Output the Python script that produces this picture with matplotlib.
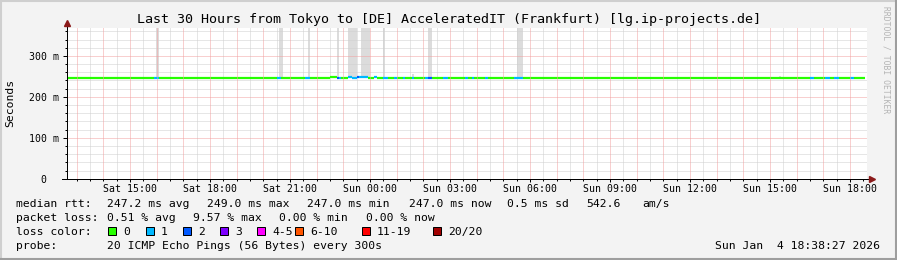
import matplotlib
matplotlib.use("Agg")
import matplotlib.pyplot as plt
import matplotlib.dates as mdates
from matplotlib.ticker import MultipleLocator, FixedLocator
from matplotlib.patches import Rectangle
from matplotlib.lines import Line2D
import pandas as pd

W, H = 897, 260
MONO = "DejaVu Sans Mono"

# time window of the graph
t_start = pd.Timestamp("2026-01-03 12:38:27")
t_end = pd.Timestamp("2026-01-04 18:38:27")
days = {"Sat": "2026-01-03", "Sun": "2026-01-04"}

# median rtt, run-length: segment edges, rtt (ms), lost pings out of 20
seg_edges = ["Sat 12:40", "Sat 15:55", "Sat 16:05", "Sat 20:30", "Sat 20:40", "Sat 21:35",
             "Sat 21:45", "Sat 22:30", "Sat 22:45", "Sat 22:50", "Sat 22:55", "Sat 23:10",
             "Sat 23:20", "Sat 23:30", "Sat 23:35", "Sat 23:55", "Sun 00:10", "Sun 00:15",
             "Sun 00:30", "Sun 00:40", "Sun 00:55", "Sun 01:00", "Sun 01:15", "Sun 01:20",
             "Sun 01:35", "Sun 01:40", "Sun 02:05", "Sun 02:10", "Sun 02:20", "Sun 02:45",
             "Sun 02:55", "Sun 03:35", "Sun 03:40", "Sun 03:50", "Sun 03:55", "Sun 04:20",
             "Sun 04:25", "Sun 05:25", "Sun 05:45", "Sun 16:30", "Sun 16:40", "Sun 17:05",
             "Sun 17:15", "Sun 17:25", "Sun 17:35", "Sun 18:00", "Sun 18:10", "Sun 18:35"]
seg_rtt = [247, 247, 247, 247, 247, 247, 247, 249.5, 246, 247, 247, 249.5,
           247, 249.5, 249.5, 247, 248, 247, 247, 247, 247, 247, 247, 247,
           247, 247, 247, 247, 247, 247, 247, 247, 247, 247, 247, 247,
           247, 247, 247, 247, 247, 247, 247, 247, 247, 247, 247]
seg_loss = [0, 1, 0, 1, 0, 1, 0, 0, 2, 1, 0, 1,
            1, 2, 1, 0, 1, 0, 1, 0, 1, 0, 1, 0,
            1, 0, 1, 2, 0, 1, 0, 1, 0, 1, 0, 1,
            0, 1, 0, 1, 0, 1, 0, 1, 0, 1, 0]

# smoke (spread of the 20 pings), ms
smoke_from = ["Sat 15:59", "Sat 20:35", "Sat 21:40", "Sat 22:45", "Sat 23:10", "Sat 23:40",
              "Sun 00:30", "Sun 01:35", "Sun 02:10", "Sun 05:30", "Sun 15:20"]
smoke_to = ["Sat 16:05", "Sat 20:45", "Sat 21:45", "Sat 22:50", "Sat 23:30", "Sun 00:00",
            "Sun 00:35", "Sun 01:40", "Sun 02:20", "Sun 05:45", "Sun 15:25"]
smoke_lo = [249, 249, 249, 249, 249, 249, 249, 249, 249, 249, 249]
smoke_hi = [900, 900, 900, 900, 900, 900, 900, 256, 900, 900, 252]

# loss colour legend
loss_labels = ["0", "1", "2", "3", "4-5", "6-10", "11-19", "20/20"]
loss_colors = ["#26ff00", "#00b8ff", "#0059ff", "#7e00ff", "#ff00ff", "#ff5500", "#ff0000", "#a10000"]
loss_box_x = [108, 146, 183, 220, 257, 295, 362, 433]

# statistics lines: (text, x px)
rtt_stats = [("median rtt:", 16), ("247.2 ms avg", 107), ("249.0 ms max", 207),
             ("247.0 ms min", 307), ("247.0 ms now", 409), ("0.5 ms sd", 507),
             ("542.6", 586), ("am/s", 642)]
loss_stats = [("packet loss:", 16), ("0.51 % avg", 107), ("9.57 % max", 193),
              ("0.00 % min", 279), ("0.00 % now", 366)]
probe_text = "20 ICMP Echo Pings (56 Bytes) every 300s"
stamp_text = "Sun Jan  4 18:38:27 2026"


def ts(s):
    d, hm = s.split()
    return pd.Timestamp(days[d] + " " + hm)


def fx(x):
    return x / W


def fy(y):
    return 1 - y / H


fig = plt.figure(figsize=(W / 100, H / 100), dpi=100, facecolor="#f3f3f3")
ax = fig.add_axes([fx(67), fy(178.7), 800 / W, (178.7 - 27.7) / H])
ax.set_facecolor("white")

# smoke
for a, b, lo, hi in zip(smoke_from, smoke_to, smoke_lo, smoke_hi):
    ax.fill_between([ts(a), ts(b)], lo / 1000, hi / 1000, color="#dcdcdc", lw=0, zorder=1)

# median line coloured by loss
for i in range(len(seg_rtt)):
    ax.plot([ts(seg_edges[i]), ts(seg_edges[i + 1])], [seg_rtt[i] / 1000] * 2,
            color=loss_colors[seg_loss[i]], lw=1.6, solid_capstyle="butt", zorder=3)

ax.set_xlim(t_start, t_end)
ax.set_ylim(0, 0.369)

# grid: red major, grey minor, dotted
ax.xaxis.set_major_locator(mdates.HourLocator(byhour=range(0, 24, 3)))
ax.xaxis.set_major_formatter(mdates.DateFormatter("%a %H:%M"))
ax.xaxis.set_minor_locator(mdates.MinuteLocator(byminute=[0, 30]))
ax.yaxis.set_major_locator(FixedLocator([0, 0.1, 0.2, 0.3]))
ax.yaxis.set_minor_locator(MultipleLocator(0.02))
ax.set_yticklabels(["0  ", "100 m", "200 m", "300 m"])

for tm in pd.date_range("2026-01-03 13:00", "2026-01-04 18:00", freq="30min"):
    col = "#f2a0a0" if tm.minute == 0 else "#cfcfcf"
    ax.axvline(tm, color=col, lw=0.72, ls=(0, (1, 1)), zorder=4 if tm.minute == 0 else 2)
for v in range(1, 19):
    col = "#f2a0a0" if v % 5 == 0 else "#cfcfcf"
    ax.axhline(v * 0.02, color=col, lw=0.72, ls=(0, (1, 1)), zorder=4 if v % 5 == 0 else 2)

for s in ax.spines.values():
    s.set_visible(False)
ax.tick_params(axis="both", which="major", length=2.5, width=0.72, color="black",
               labelsize=7.1, pad=2.5)
ax.tick_params(axis="x", which="major", pad=1.2)
ax.tick_params(axis="y", which="major", length=3)
ax.tick_params(axis="both", which="minor", length=1.4, width=0.72, color="black")
for lab in ax.get_xticklabels() + ax.get_yticklabels():
    lab.set_family(MONO)

# axes with arrows
ax.add_line(Line2D([0, 0], [0, 1.03], transform=ax.transAxes, color="black", lw=0.72,
                   clip_on=False, zorder=5))
ax.add_line(Line2D([-0.006, 1.006], [0, 0], transform=ax.transAxes, color="black", lw=0.72,
                   clip_on=False, zorder=5))
ax.plot([0], [1.03], marker="^", ms=4.5, color="#8b1a1a", transform=ax.transAxes,
        clip_on=False, zorder=6)
ax.plot([1.006], [0], marker=">", ms=4.5, color="#8b1a1a", transform=ax.transAxes,
        clip_on=False, zorder=6)

# texts
fig.text(fx(448.5), fy(19), "Last 30 Hours from Tokyo to [DE] AcceleratedIT (Frankfurt) [lg.ip-projects.de]",
         family=MONO, size=9.6, ha="center", va="center")
fig.text(fx(10), fy(103), "Seconds", family=MONO, size=8.2, rotation=90, ha="center", va="center")
fig.text(fx(886), fy(60), "RRDTOOL / TOBI OETIKER", family=MONO, size=5.8, rotation=270,
         ha="center", va="center", color="#b4b4b4")

for txt, x in rtt_stats:
    fig.text(fx(x), fy(204), txt, family=MONO, size=8.2, va="center")
for txt, x in loss_stats:
    fig.text(fx(x), fy(218.3), txt, family=MONO, size=8.2, va="center")
fig.text(fx(16), fy(231.7), "loss color:", family=MONO, size=8.2, va="center")
for lab, col, x in zip(loss_labels, loss_colors, loss_box_x):
    fig.patches.append(Rectangle((fx(x), fy(234.5)), 8 / W, 8 / H, transform=fig.transFigure,
                                 facecolor=col, edgecolor="black", lw=0.72))
    fig.text(fx(x + 15), fy(231.7), lab, family=MONO, size=8.2, va="center")
fig.text(fx(16), fy(246), "probe:", family=MONO, size=8.2, va="center")
fig.text(fx(107), fy(246), probe_text, family=MONO, size=8.2, va="center")
fig.text(fx(880), fy(246), stamp_text, family=MONO, size=8.2, va="center", ha="right")

# 3d frame
fig.add_artist(Line2D([0, 1], [fy(0.5), fy(0.5)], transform=fig.transFigure, color="#cfcfcf", lw=1.5))
fig.add_artist(Line2D([fx(0.5), fx(0.5)], [0, 1], transform=fig.transFigure, color="#cfcfcf", lw=1.5))
fig.add_artist(Line2D([0, 1], [fy(259), fy(259)], transform=fig.transFigure, color="#9e9e9e", lw=1.5))
fig.add_artist(Line2D([fx(896), fx(896)], [0, 1], transform=fig.transFigure, color="#9e9e9e", lw=1.5))

fig.savefig("out.png", dpi=100, facecolor=fig.get_facecolor())
